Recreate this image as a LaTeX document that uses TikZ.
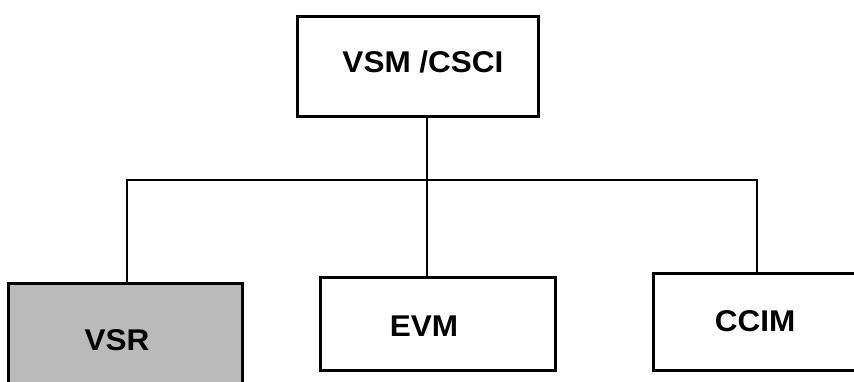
\documentclass[tikz,border=0pt]{standalone}
\usepackage{fontspec}
\setmainfont{Liberation Sans}[FakeStretch=1.05]
\begin{document}
\begin{tikzpicture}[x=1pt,y=-1pt,
  boxstyle/.style={draw=black,line width=3pt,rectangle,inner sep=0pt},
  labelstyle/.style={font=\fontsize{30}{32}\selectfont\bfseries,inner sep=0pt},
  wire/.style={line width=2.8pt,line join=miter}]
\useasboundingbox (0,0) rectangle (854,382);
\clip (0,0) rectangle (854,382);
\fill[white] (0,0) rectangle (854,382);
% boxes
\node[boxstyle,minimum width=241pt,minimum height=100pt] (top) at (417.5,67) {};
\node[boxstyle,fill=black!27,minimum width=234pt,minimum height=110pt] (vsr) at (125,338) {};
\node[boxstyle,minimum width=235pt,minimum height=93pt] (evm) at (437.5,323.5) {};
\node[boxstyle,minimum width=230pt,minimum height=97pt] (ccim) at (768,321.5) {};
% labels
\node[labelstyle] (ttop) at (423,62) {VSM /CSCI};
\node[labelstyle] (tvsr) at (117,340) {VSR};
\node[labelstyle] (tevm) at (424,326) {EVM};
\node[labelstyle] (tccim) at (755,321) {CCIM};
% connectors
\coordinate (busL) at (127,180);
\coordinate (busM) at (427,180);
\coordinate (busR) at (757,180);
\draw[wire] (top.south -| busM) -- (evm.north -| busM);
\draw[wire] (vsr.north -| busL) -- (busL) -- (busR) -- (ccim.north -| busR);
\end{tikzpicture}
\end{document}
